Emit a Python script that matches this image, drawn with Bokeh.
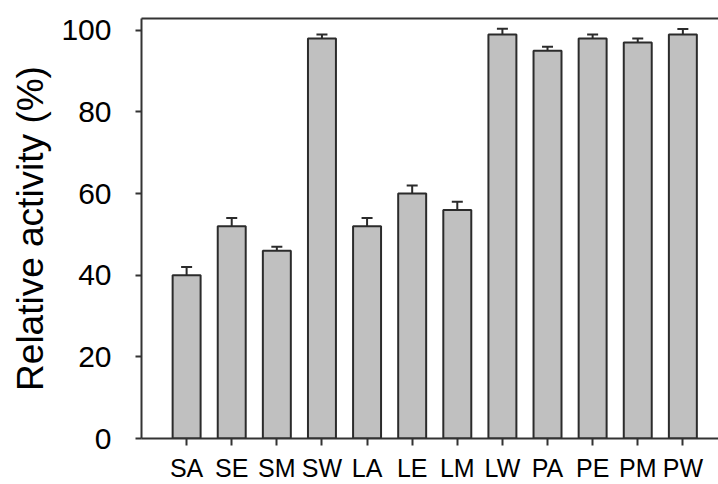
from bokeh.plotting import figure
from bokeh.models import ColumnDataSource, Range1d, FixedTicker, LinearAxis, Whisker, TeeHead
from bokeh.embed import file_html
from bokeh.resources import INLINE

categories = ["SA", "SE", "SM", "SW", "LA", "LE", "LM", "LW", "PA", "PE", "PM", "PW"]
activity = [40, 52, 46, 98, 52, 60, 56, 99, 95, 98, 97, 99]
errors = [2, 2, 1, 1, 2, 2, 2, 1.4, 1, 1, 1, 1.3]
y_ticks = [0, 20, 40, 60, 80, 100]

positions = list(range(1, len(categories) + 1))
upper = [v + e for v, e in zip(activity, errors)]
source = ColumnDataSource(dict(x=positions, top=activity, upper=upper))

FONT = "Liberation Sans"
AXIS_COLOR = "#333333"

p = figure(width=718, height=484, output_backend="svg", toolbar_location=None,
           x_range=Range1d(0, 12.79), y_range=Range1d(0, 102.9),
           min_border_left=141, min_border_right=0, min_border_top=18, min_border_bottom=45)
p.outline_line_color = None
p.grid.visible = False
p.background_fill_color = "white"
p.border_fill_color = "white"

p.vbar(x="x", top="top", bottom=0, width=0.62, source=source,
       fill_color="#C0C0C0", line_color="#2b2b2b", line_width=2)

w = Whisker(base="x", lower="top", upper="upper", source=source,
            line_color="#2b2b2b", line_width=2,
            lower_head=None,
            upper_head=TeeHead(size=11, line_color="#2b2b2b", line_width=2))
p.add_layout(w)

# x axis
xa = p.xaxis[0]
xa.ticker = FixedTicker(ticks=positions)
xa.major_label_overrides = {pos: c for pos, c in zip(positions, categories)}
xa.major_label_text_font = FONT
xa.major_label_text_font_size = "25px"
xa.major_label_text_color = "black"
xa.major_label_standoff = 8
xa.major_tick_in = 0
xa.major_tick_out = 7
xa.minor_tick_line_color = None
xa.axis_line_color = AXIS_COLOR
xa.axis_line_width = 2
xa.major_tick_line_color = AXIS_COLOR
xa.major_tick_line_width = 2

# y axis
ya = p.yaxis[0]
ya.ticker = FixedTicker(ticks=y_ticks)
ya.major_label_text_font = FONT
ya.major_label_text_font_size = "30px"
ya.major_label_text_color = "black"
ya.major_label_standoff = 24
ya.major_tick_in = 0
ya.major_tick_out = 6
ya.minor_tick_line_color = None
ya.axis_line_color = AXIS_COLOR
ya.axis_line_width = 2
ya.major_tick_line_color = AXIS_COLOR
ya.major_tick_line_width = 2
ya.axis_label = "Relative activity (%)"
ya.axis_label_text_font = FONT
ya.axis_label_text_font_size = "37px"
ya.axis_label_text_font_style = "normal"
ya.axis_label_text_color = "black"
ya.axis_label_standoff = 7

# top border line
top = LinearAxis(ticker=FixedTicker(ticks=[]), major_label_text_font_size="0px",
                 major_tick_line_color=None, minor_tick_line_color=None,
                 axis_line_color=AXIS_COLOR, axis_line_width=2,
                 major_label_standoff=0)
p.add_layout(top, "above")

open("out.html", "w").write(file_html(p, INLINE))
